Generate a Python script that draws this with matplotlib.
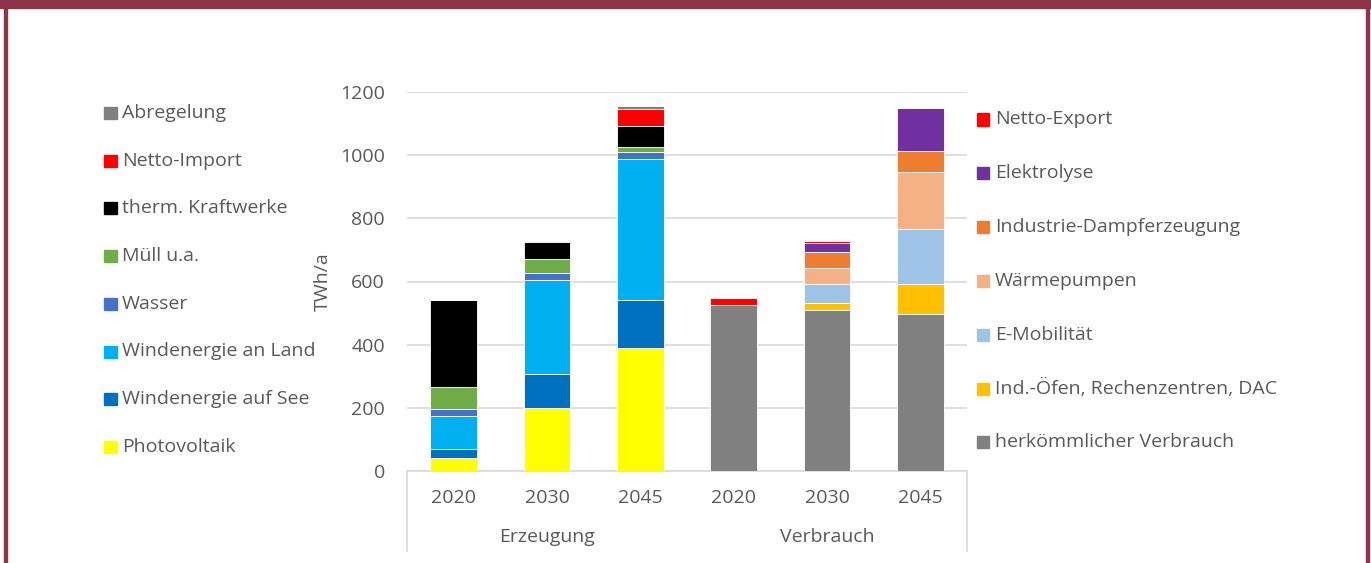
import matplotlib.pyplot as plt
from matplotlib.patches import Rectangle

plt.rcParams["font.family"] = ["Open Sans", "DejaVu Sans"]

W, H = 1371, 563
TEXT = "#595959"
FS = 14

years = ["2020", "2030", "2045"]
groups = ["Erzeugung", "Verbrauch"]

# Erzeugung (TWh/a), bottom to top
gen_labels = ["Photovoltaik", "Windenergie auf See", "Windenergie an Land", "Wasser",
              "Müll u.a.", "therm. Kraftwerke", "Netto-Import", "Abregelung"]
gen_colors = ["#FFFF00", "#0070C0", "#00B0F0", "#4472C4",
              "#70AD47", "#000000", "#FF0000", "#808080"]
photovoltaik = [42, 201, 388]
wind_see = [29, 106, 152]
wind_land = [103, 299, 447]
wasser = [22, 21, 22]
muell = [71, 44, 17]
therm = [274, 53, 66]
netto_import = [0, 0, 55]
abregelung = [2, 4, 10]
gen_values = [photovoltaik, wind_see, wind_land, wasser, muell, therm, netto_import, abregelung]

# Verbrauch (TWh/a), bottom to top
use_labels = ["herkömmlicher Verbrauch", "Ind.-Öfen, Rechenzentren, DAC", "E-Mobilität",
              "Wärmepumpen", "Industrie-Dampferzeugung", "Elektrolyse", "Netto-Export"]
use_colors = ["#808080", "#FFC000", "#9DC3E6", "#F4B183", "#ED7D31", "#7030A0", "#FF0000"]
herkoemmlich = [525, 510, 498]
ind_oefen = [0, 22, 94]
e_mobil = [0, 60, 174]
waermepumpen = [0, 50, 181]
dampf = [0, 52, 65]
elektrolyse = [0, 28, 137]
netto_export = [23, 6, 0]
use_values = [herkoemmlich, ind_oefen, e_mobil, waermepumpen, dampf, elektrolyse, netto_export]


def fx(px):
    return px / W


def fy(py):
    return 1 - py / H


fig = plt.figure(figsize=(W / 100, H / 100), dpi=100)
ax = fig.add_axes([fx(407), fy(471), fx(967) - fx(407), fy(92) - fy(471)])


def stack(positions, series, colors):
    bottom = [0] * len(positions)
    for vals, col in zip(series, colors):
        ax.bar(positions, vals, width=0.5, bottom=bottom, color=col,
               edgecolor="white", linewidth=0.6, zorder=3)
        bottom = [b + v for b, v in zip(bottom, vals)]


stack([0, 1, 2], gen_values, gen_colors)
stack([3, 4, 5], use_values, use_colors)

ax.set_xlim(-0.5, 5.5)
ax.set_ylim(0, 1200)
ax.set_yticks(range(0, 1201, 200))
ax.yaxis.grid(True, color="#D9D9D9", linewidth=1.2, zorder=0)
ax.tick_params(axis="y", length=0, pad=16, labelsize=FS, labelcolor=TEXT)
ax.tick_params(axis="x", length=0, labelbottom=False)
for s in ["top", "right", "left"]:
    ax.spines[s].set_visible(False)
ax.spines["bottom"].set_color("#D9D9D9")
ax.spines["bottom"].set_linewidth(1.2)

# category axis: years and groups
for i, yr in enumerate(years + years):
    ax.text(i, -0.07, yr, transform=ax.get_xaxis_transform(), ha="center", va="center",
            fontsize=FS, color=TEXT)
for j, g in enumerate(groups):
    ax.text(1 + 3 * j, -0.174, g, transform=ax.get_xaxis_transform(), ha="center",
            va="center", fontsize=FS, color=TEXT)
for x in (0, 1):
    ax.plot([x, x], [0, -0.21], transform=ax.transAxes, color="#D9D9D9",
            linewidth=1.2, clip_on=False)

ax.set_ylabel("TWh/a", fontsize=FS, color=TEXT, labelpad=6)

# legends
for i, (lab, col) in enumerate(zip(gen_labels[::-1], gen_colors[::-1])):
    yc = 113 + 47.7 * i
    fig.add_artist(Rectangle((fx(104), fy(yc + 6)), fx(13), 12 / H, color=col))
    fig.text(fx(122), fy(yc), lab, ha="left", va="center", fontsize=FS, color=TEXT)

for i, (lab, col) in enumerate(zip(use_labels[::-1], use_colors[::-1])):
    yc = 119.5 + 53.8 * i
    fig.add_artist(Rectangle((fx(977), fy(yc + 6)), fx(12), 12 / H, color=col))
    fig.text(fx(995), fy(yc), lab, ha="left", va="center", fontsize=FS, color=TEXT)

# frame
border = "#8C3548"
fig.add_artist(Rectangle((0, fy(8)), 1, 8 / H, color=border))
fig.add_artist(Rectangle((fx(4), 0), fx(3), 1, color=border))
fig.add_artist(Rectangle((fx(1366), 0), fx(3), 1, color=border))

fig.savefig("out.png", dpi=100)
